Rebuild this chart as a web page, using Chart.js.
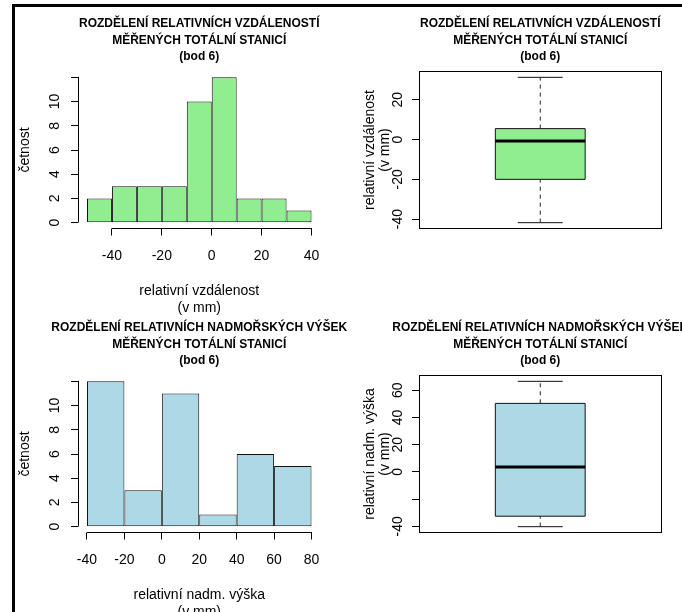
<!DOCTYPE html>
<html>
<head>
<meta charset="utf-8">
<script src="https://cdn.jsdelivr.net/npm/chart.js@4.4.1/dist/chart.umd.min.js"></script>
<style>
  body { margin: 0; width: 682px; height: 612px; overflow: hidden; background: #fff; position: relative; }
  canvas { position: absolute; }
  #frame { position: absolute; left: 12px; top: 4px; width: 2000px; height: 2000px; border: 3px solid #000; }
</style>
</head>
<body>
<div id="frame"></div>
<canvas id="histDist" width="400" height="340" style="left:0;top:0"></canvas>
<canvas id="boxDist" width="341" height="340" style="left:341px;top:0"></canvas>
<canvas id="histHeight" width="400" height="340" style="left:0;top:304px"></canvas>
<canvas id="boxHeight" width="341" height="340" style="left:341px;top:304px"></canvas>
<script>
// titles
const titleDist = ['ROZDĚLENÍ RELATIVNÍCH VZDÁLENOSTÍ', 'MĚŘENÝCH TOTÁLNÍ STANICÍ', '(bod 6)'];
const titleHeight = ['ROZDĚLENÍ RELATIVNÍCH NADMOŘSKÝCH VÝŠEK', 'MĚŘENÝCH TOTÁLNÍ STANICÍ', '(bod 6)'];

// histogram bins (edges) and counts
const distBreaks = [-50, -40, -30, -20, -10, 0, 10, 20, 30, 40];
const distCounts = [2, 3, 3, 3, 10, 12, 2, 2, 1];
const heightBreaks = [-40, -20, 0, 20, 40, 60, 80];
const heightCounts = [12, 3, 11, 1, 6, 5];

// boxplot stats: lower whisker, Q1, median, Q3, upper whisker
const distBox = [-41.8, -20, -0.7, 5.5, 31.3];
const heightBox = [-40.2, -32.5, 3.7, 50.4, 66.6];

// ticks
const countTicks = [0, 2, 4, 6, 8, 10, 12];
const countTickLabels = ['0', '2', '4', '6', '8', '10', ''];
const distXTicks = [-40, -20, 0, 20, 40];
const heightXTicks = [-40, -20, 0, 20, 40, 60, 80];
const distBoxTicks = [-40, -20, 0, 20];
const distBoxTickLabels = ['-40', '-20', '0', '20'];
const heightBoxTicks = [-40, -20, 0, 20, 40, 60];
const heightBoxTickLabels = ['-40', '', '0', '20', '40', '60'];

const FONT = '"Liberation Sans", Arial, sans-serif';
Chart.defaults.font.family = FONT;
Chart.defaults.font.size = 14;
Chart.defaults.color = '#000';

// R style: pad axis range by 4%
function padRange(lo, hi) {
  const d = (hi - lo) * 0.04;
  return [lo - d, hi + d];
}

const al = v => Math.round(v - 0.5) + 0.5;

// axis lines, frame and main title like base R graphics
const rPlot = {
  id: 'rPlot',
  afterDraw(chart, args, o) {
    const ctx = chart.ctx, a = chart.chartArea;
    ctx.save();
    ctx.strokeStyle = '#000';
    ctx.lineWidth = 1;
    if (o.frame) {
      ctx.strokeRect(al(a.left), al(a.top), al(a.right) - al(a.left), al(a.bottom) - al(a.top));
    }
    if (o.axes) {
      const x = chart.scales.x, y = chart.scales.y;
      ctx.beginPath();
      ctx.moveTo(al(x.getPixelForValue(x.ticks[0].value)), al(a.bottom));
      ctx.lineTo(al(x.getPixelForValue(x.ticks[x.ticks.length - 1].value)) + 0.5, al(a.bottom));
      ctx.moveTo(al(a.left), al(y.getPixelForValue(y.ticks[0].value)));
      ctx.lineTo(al(a.left), al(y.getPixelForValue(y.ticks[y.ticks.length - 1].value)) - 0.5);
      ctx.stroke();
    }
    ctx.font = 'bold 12px ' + FONT;
    ctx.fillStyle = '#000';
    ctx.textAlign = 'center';
    ctx.textBaseline = 'middle';
    const cx = (a.left + a.right) / 2;
    o.lines.forEach((t, i) => ctx.fillText(t, cx, a.top - 48 + i * 16.75));
    ctx.restore();
  }
};

function yAxis(ticks, labels, title, tickPad, titlePad, titleLH) {
  return {
    min: ticks.lo, max: ticks.hi,
    afterBuildTicks: s => { s.ticks = ticks.values.map(v => ({ value: v })); },
    afterFit: s => { s.width = 78; },
    grid: { drawOnChartArea: false, tickLength: 7, tickColor: '#000' },
    border: { display: false },
    ticks: { minRotation: 90, maxRotation: 90, crossAlign: 'center', padding: tickPad, autoSkip: false,
             callback: (v, i) => labels[i] },
    title: { display: true, text: title, padding: { top: titlePad, bottom: 0 },
             font: { size: 14, lineHeight: titleLH } }
  };
}

function histogram(id, breaks, counts, xTicks, color, xTitle, title) {
  const bars = counts.map((c, i) => ({ x: (breaks[i] + breaks[i + 1]) / 2, y: c }));
  const [xmin, xmax] = padRange(breaks[0], breaks[breaks.length - 1]);
  const [ymin, ymax] = padRange(0, Math.max(...counts));
  new Chart(document.getElementById(id), {
    type: 'bar',
    data: {
      datasets: [{
        data: bars,
        backgroundColor: color,
        borderColor: '#111',
        borderWidth: 1,
        borderSkipped: false,
        inflateAmount: 0,
        barPercentage: 1,
        categoryPercentage: 1
      }]
    },
    options: {
      responsive: false,
      animation: false,
      devicePixelRatio: 1,
      layout: { padding: { top: 71.5, left: 0, right: 79.5, bottom: 23.9 } },
      plugins: { legend: { display: false }, tooltip: { enabled: false }, rPlot: { lines: title, axes: true } },
      scales: {
        x: {
          type: 'linear', min: xmin, max: xmax, offset: false,
          afterBuildTicks: s => { s.ticks = xTicks.map(v => ({ value: v })); },
          afterFit: s => { s.height = 87.6; },
          grid: { drawOnChartArea: false, offset: false, tickLength: 7, tickColor: '#000' },
          border: { display: false },
          ticks: { padding: 12, minRotation: 0, maxRotation: 0, autoSkip: false },
          title: { display: true, text: xTitle, padding: 0, font: { size: 14, lineHeight: 16.5 / 14 } }
        },
        y: yAxis({ lo: ymin, hi: ymax, values: countTicks }, countTickLabels, 'četnost', 8.2, 16.6, 1.2)
      }
    },
    plugins: [rPlot]
  });
}

function boxplot(id, stats, yTicks, yLabels, color, yTitle, title) {
  const [lo, q1, med, q3, hi] = stats;
  const [ymin, ymax] = padRange(lo, hi);
  const X = 1, BOX = 0.2, CAP = 0.1;
  const seg = (x0, y0, x1, y1) => [{ x: x0, y: y0 }, { x: x1, y: y1 }];
  const thin = { borderColor: '#111', borderWidth: 1 };
  const dash = { borderColor: '#222', borderWidth: 1, borderDash: [4, 4] };
  new Chart(document.getElementById(id), {
    type: 'line',
    data: {
      datasets: [
        { data: seg(X - BOX, med, X + BOX, med), borderColor: '#000', borderWidth: 3, borderCapStyle: 'butt' },
        { data: seg(X, q3, X, hi), ...dash },
        { data: seg(X, lo, X, q1), ...dash },
        { data: seg(X - CAP, hi, X + CAP, hi), ...thin },
        { data: seg(X - CAP, lo, X + CAP, lo), ...thin },
        { data: seg(X - BOX, q1, X - BOX, q3), ...thin },
        { data: seg(X + BOX, q1, X + BOX, q3), ...thin },
        { data: seg(X - BOX, q3, X + BOX, q3), ...thin, fill: '+1', backgroundColor: color },
        { data: seg(X - BOX, q1, X + BOX, q1), ...thin }
      ]
    },
    options: {
      responsive: false,
      animation: false,
      devicePixelRatio: 1,
      elements: { point: { radius: 0 }, line: { tension: 0 } },
      layout: { padding: { top: 71.5, left: 0, right: 20.5, bottom: 111.5 } },
      plugins: {
        legend: { display: false }, tooltip: { enabled: false },
        filler: { drawTime: 'beforeDatasetsDraw' },
        rPlot: { lines: title, frame: true }
      },
      scales: {
        x: { type: 'linear', min: X - 0.54, max: X + 0.54, display: false },
        y: yAxis({ lo: ymin, hi: ymax, values: yTicks }, yLabels, yTitle, 3.6, 22, 14.5 / 14)
      }
    },
    plugins: [rPlot]
  });
}

histogram('histDist', distBreaks, distCounts, distXTicks, '#90EE90', ['relativní vzdálenost', '(v mm)'], titleDist);
boxplot('boxDist', distBox, distBoxTicks, distBoxTickLabels, '#90EE90', ['relativní vzdálenost', '(v mm)'], titleDist);
histogram('histHeight', heightBreaks, heightCounts, heightXTicks, '#ADD8E6', ['relativní nadm. výška', '(v mm)'], titleHeight);
boxplot('boxHeight', heightBox, heightBoxTicks, heightBoxTickLabels, '#ADD8E6', ['relativní nadm. výška', '(v mm)'], titleHeight);
</script>
</body>
</html>
